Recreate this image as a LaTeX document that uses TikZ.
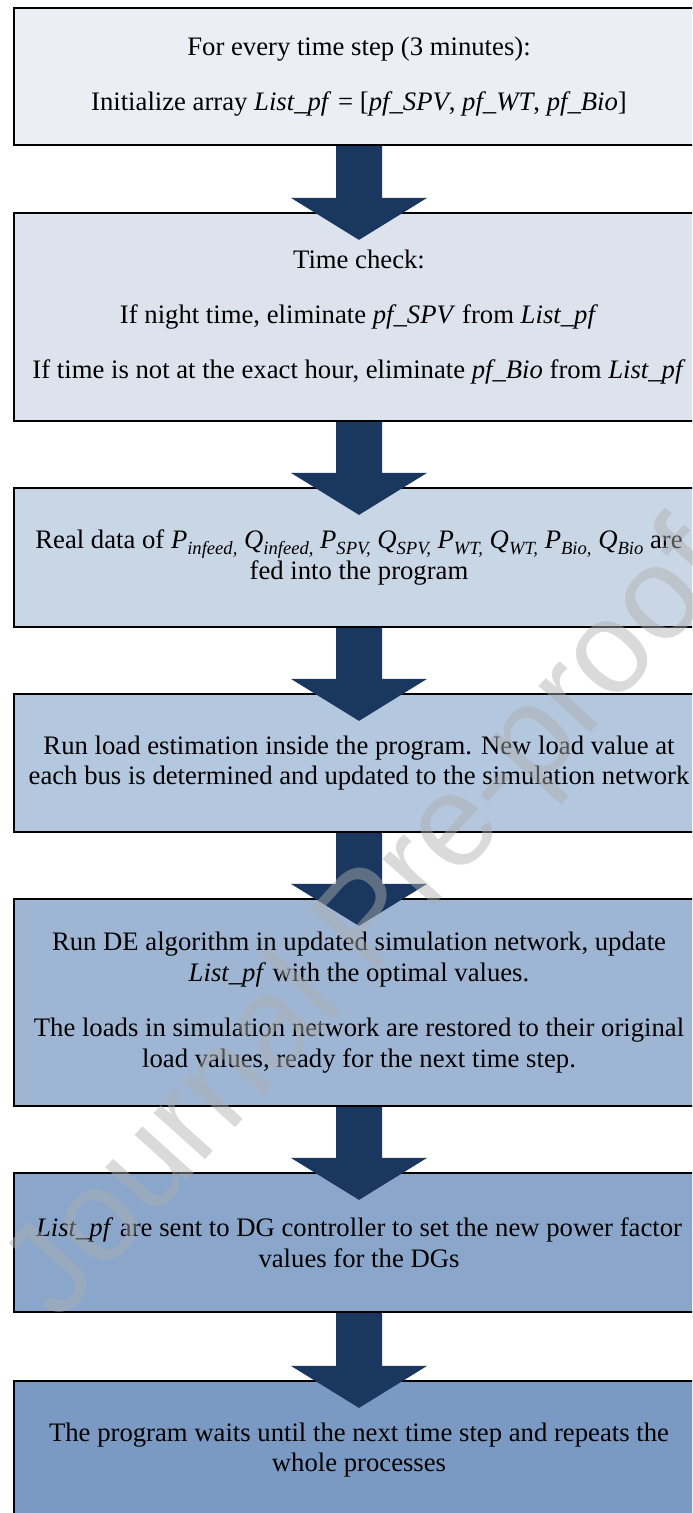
\documentclass[tikz,border=0pt]{standalone}
\usepackage{fontspec}
\setmainfont{Liberation Serif}
\newfontfamily\wmfont{Liberation Sans}
\usetikzlibrary{calc}
\definecolor{cA}{HTML}{EBEFF5}
\definecolor{cB}{HTML}{DCE3ED}
\definecolor{cC}{HTML}{C9D6E6}
\definecolor{cD}{HTML}{B3C7DF}
\definecolor{cE}{HTML}{9EB6D4}
\definecolor{cF}{HTML}{8AA7CB}
\definecolor{cG}{HTML}{7A9AC3}
\definecolor{arrowc}{HTML}{1A375F}
\definecolor{wmgray}{HTML}{AFAFAF}
\newcommand{\sbs}[1]{\raisebox{-0.22em}{\fontsize{9.3}{9.5}\selectfont\itshape #1}}
\newcommand{\flowarrow}[2]{%
  \path (#1.south) coordinate (s) ($(#2.north)+(0,28)$) coordinate (t);
  \fill[arr] ($(s)+(-23,0)$) -- ($(t)+(-23,-42)$) -- ($(t)+(-68,-42)$) -- (t)
     -- ($(t)+(68,-42)$) -- ($(t)+(23,-42)$) -- ($(s)+(23,0)$) -- cycle;}
\begin{document}
\begin{tikzpicture}[x=0.5pt,y=-0.5pt,
  box/.style={draw=black, line width=1.1pt, minimum width=345pt, align=center,
     inner sep=0pt, font=\fontsize{13.35}{15.35}\selectfont},
  arr/.style={fill=arrowc, draw=none}]
\useasboundingbox (0,0) rectangle (692,1513);
\clip (0,0) rectangle (692,1513);
\fill[white] (0,0) rectangle (692,1513);

\node[box, fill=cA, minimum height=68.5pt] (b1) at (359,76.5)
  {For every time step (3 minutes):\\[12.2pt]
   Initialize array \textit{List\_pf} = [\textit{pf\_SPV}, \textit{pf\_WT}, \textit{pf\_Bio}]};
\node[box, fill=cB, minimum height=104pt] (b2) at (359,317)
  {Time check:\\[12.2pt]
   If night time, eliminate \textit{pf\_SPV} from \textit{List\_pf}\\[12.2pt]
   If time is not at the exact hour, eliminate \textit{pf\_Bio} from \textit{List\_pf}};
\node[box, fill=cC, minimum height=69.5pt] (b3) at (359,557.5)
  {Real data of \textit{P}\sbs{infeed,} \textit{Q}\sbs{infeed,}
   \textit{P}\sbs{SPV,} \textit{Q}\sbs{SPV,}
   \textit{P}\sbs{WT,} \textit{Q}\sbs{WT,}
   \textit{P}\sbs{Bio,} \textit{Q}\sbs{Bio} are\\
   fed into the program};
\node[box, fill=cD, minimum height=69pt] (b4) at (359,763)
  {Run load estimation inside the program. New load value at\\
   each bus is determined and updated to the simulation network};
\node[box, fill=cE, minimum height=103.5pt] (b5) at (359,1002.5)
  {Run DE algorithm in updated simulation network, update\\
   \textit{List\_pf} with the optimal values.\\[12.2pt]
   The loads in simulation network are restored to their original\\
   load values, ready for the next time step.};
\node[box, fill=cF, minimum height=69.5pt] (b6) at (359,1242.5)
  {\textit{List\_pf} are sent to DG controller to set the new power factor\\
   values for the DGs};
\node[box, fill=cG, minimum height=69pt] (b7) at (359,1450)
  {The program waits until the next time step and repeats the\\
   whole processes};

\flowarrow{b1}{b2}
\flowarrow{b2}{b3}
\flowarrow{b3}{b4}
\flowarrow{b4}{b5}
\flowarrow{b5}{b6}
\flowarrow{b6}{b7}

\node[font=\wmfont\fontsize{65.5}{70}\selectfont, text=wmgray, opacity=0.46,
  rotate=48, inner sep=0pt] (wm) at (372,925) {Journal Pre-proof};
\end{tikzpicture}
\end{document}
